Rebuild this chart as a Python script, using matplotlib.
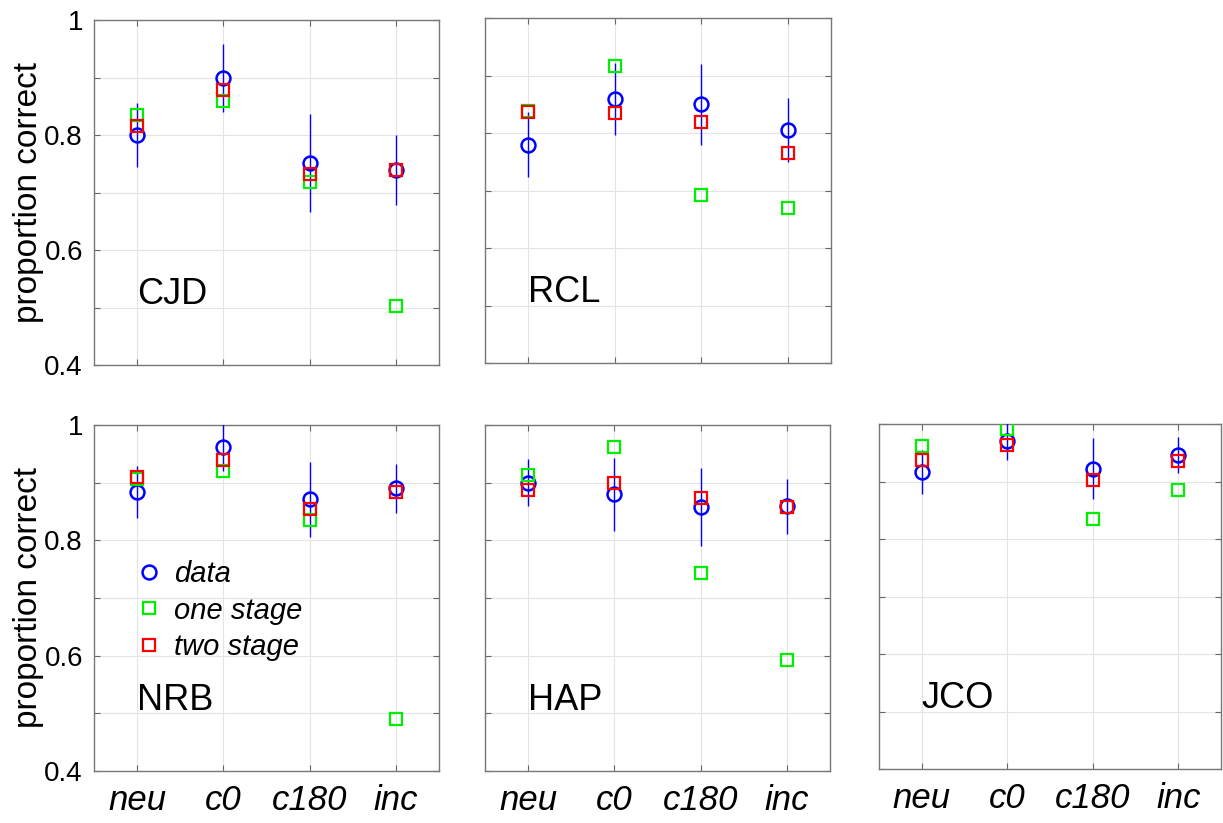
import matplotlib
matplotlib.use("Agg")
import matplotlib.pyplot as plt
import numpy as np

plt.rcParams['font.family'] = ['Liberation Sans', 'DejaVu Sans']

conditions = ['neu', 'c0', 'c180', 'inc']
subjects = ['CJD', 'RCL', 'NRB', 'HAP', 'JCO']

# observed proportion correct and error bar half-widths
data = {
    'CJD': [0.800, 0.899, 0.751, 0.739],
    'RCL': [0.780, 0.859, 0.850, 0.805],
    'NRB': [0.884, 0.961, 0.871, 0.890],
    'HAP': [0.900, 0.880, 0.858, 0.859],
    'JCO': [0.916, 0.971, 0.922, 0.946],
}
data_err = {
    'CJD': [0.056, 0.059, 0.085, 0.061],
    'RCL': [0.057, 0.063, 0.070, 0.055],
    'NRB': [0.045, 0.040, 0.065, 0.043],
    'HAP': [0.041, 0.063, 0.067, 0.048],
    'JCO': [0.038, 0.033, 0.053, 0.032],
}
one_stage = {
    'CJD': [0.835, 0.859, 0.719, 0.503],
    'RCL': [0.838, 0.916, 0.693, 0.670],
    'NRB': [0.906, 0.921, 0.835, 0.491],
    'HAP': [0.913, 0.962, 0.744, 0.593],
    'JCO': [0.961, 0.992, 0.834, 0.886],
}
two_stage = {
    'CJD': [0.816, 0.879, 0.732, 0.740],
    'RCL': [0.836, 0.835, 0.820, 0.766],
    'NRB': [0.909, 0.940, 0.855, 0.883],
    'HAP': [0.887, 0.899, 0.873, 0.857],
    'JCO': [0.937, 0.964, 0.903, 0.936],
}

W, H = 1223, 823
# axes boxes in pixels: left, top, right, bottom
boxes = {
    'CJD': (94, 20, 439, 365),
    'RCL': (485, 18, 831, 363),
    'NRB': (94, 425, 439, 771),
    'HAP': (485, 425, 830, 771),
    'JCO': (879, 424, 1221, 769),
}

GREEN = '#00ee00'

fig = plt.figure(figsize=(W / 100, H / 100), dpi=100)

for s in subjects:
    l, t, r, b = boxes[s]
    ax = fig.add_axes([l / W, 1 - b / H, (r - l) / W, (b - t) / H])
    x = np.arange(1, len(conditions) + 1)

    ax.errorbar(x, data[s], yerr=data_err[s], fmt='none', ecolor='blue',
                elinewidth=1.0, capsize=0, zorder=3)
    h1, = ax.plot(x, data[s], 'o', color='blue', mfc='none', ms=10,
                  mew=1.8, label='data', zorder=3)
    h2, = ax.plot(x, one_stage[s], 's', color=GREEN, mfc='none', ms=8.5,
                  mew=1.6, label='one stage', zorder=4)
    h3, = ax.plot(x, two_stage[s], 's', color='red', mfc='none', ms=8.5,
                  mew=1.6, label='two stage', zorder=5)

    ax.set_xlim(0.5, 4.5)
    ax.set_ylim(0.4, 1.0)
    ax.set_xticks(x)
    ax.set_yticks(np.arange(0.4, 1.01, 0.1))
    ax.grid(True, color='#e4e4e4', linewidth=0.8)
    ax.set_axisbelow(True)
    ax.tick_params(direction='in', top=True, right=True, length=4,
                   color='#666666', width=0.8)
    for sp in ax.spines.values():
        sp.set_color('#777777')
        sp.set_linewidth(1.0)

    if s in ('CJD', 'NRB'):
        ax.set_yticklabels(['0.4', '', '0.6', '', '0.8', '', '1'],
                           fontsize=20)
        ax.tick_params(axis='y', pad=8)
        ax.set_ylabel('proportion correct', fontsize=24, labelpad=0)
    else:
        ax.set_yticklabels([])

    if s in ('NRB', 'HAP', 'JCO'):
        ax.set_xticklabels(conditions, fontsize=25, style='italic')
        ax.tick_params(axis='x', pad=9)
    else:
        ax.set_xticklabels([])

    ax.text(1.0, 0.522, s, fontsize=26, ha='left', va='center')

    if s == 'NRB':
        ax.legend(handles=[h1, h2, h3], loc='upper left',
                  bbox_to_anchor=(0.125, 0.61), frameon=False,
                  prop={'size': 21, 'style': 'italic'},
                  handlelength=0.8, handletextpad=0.45, labelspacing=0.3,
                  borderpad=0, borderaxespad=0)

fig.savefig('out.png', dpi=100)
